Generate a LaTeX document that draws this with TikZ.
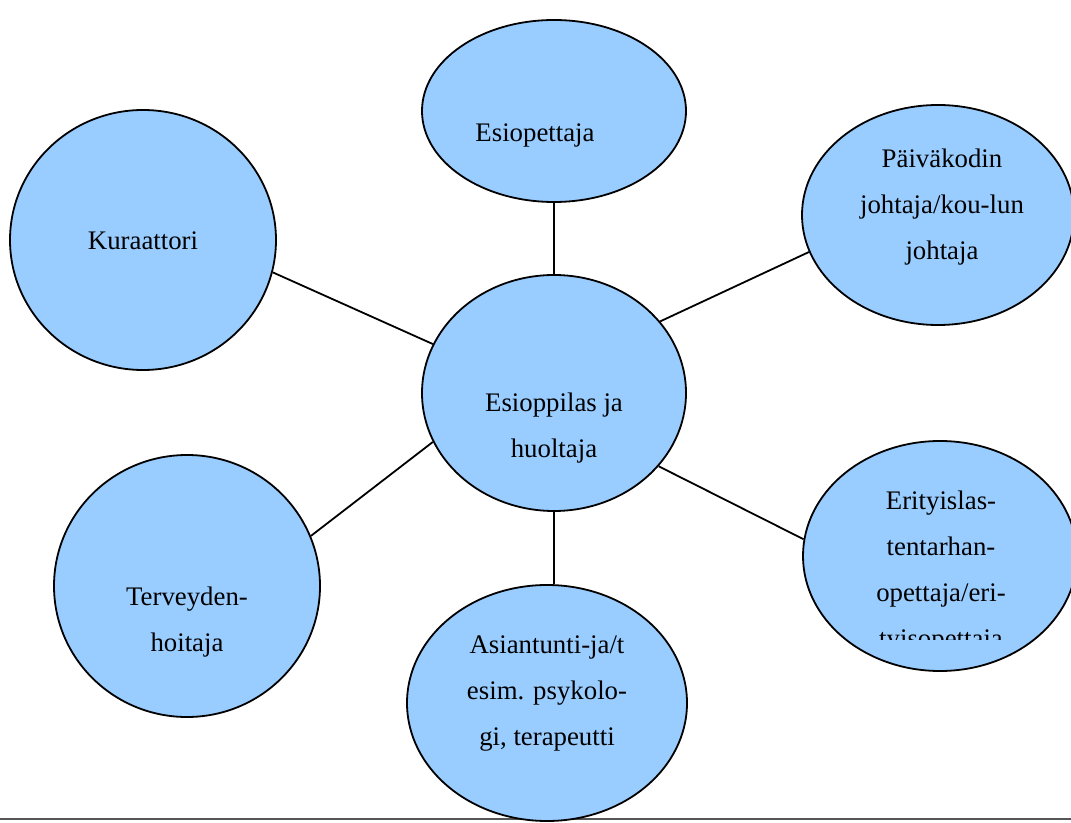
\documentclass[tikz,border=0pt]{standalone}
\usepackage{fontspec}
\setmainfont{Liberation Serif}
\usetikzlibrary{shapes.geometric}
\definecolor{bubble}{HTML}{99CCFF}
\definecolor{rule}{HTML}{555555}
\begin{document}
\begin{tikzpicture}[x=0.5pt,y=-0.5pt,
  bub/.style={ellipse,draw=black,line width=0.9pt,fill=bubble,inner sep=0pt},
  conn/.style={draw=black,line width=0.9pt},
  lbl/.style={font=\fontsize{13.4pt}{23pt}\selectfont,align=center,anchor=base,inner sep=0pt}]
\useasboundingbox (0,0) rectangle (1071,823);
\clip (0,0) rectangle (1071,823);
\draw[rule,line width=0.8pt] (0,819) -- (1071,819);
% ellipses
\node[bub,minimum width=132pt,minimum height=91pt] (esi) at (554,111) {};
\node[bub,minimum width=133pt,minimum height=130pt] (kur) at (143,240) {};
\node[bub,minimum width=136pt,minimum height=110pt] (pai) at (938,215) {};
\node[bub,minimum width=132pt,minimum height=118pt] (cen) at (554,393) {};
\node[bub,minimum width=137pt,minimum height=115pt] (eri) at (940,556) {};
\node[bub,minimum width=133pt,minimum height=131pt] (ter) at (187,586) {};
\node[bub,minimum width=140pt,minimum height=118pt] (asi) at (547,703) {};
% connectors
\draw[conn] (esi.south) -- (cen.north);
\draw[conn] (kur.-14.5) -- (cen.158.4);
\draw[conn] (pai.196) -- (cen.34.6);
\draw[conn] (ter.22.5) -- (cen.202.8);
\draw[conn] (cen.south) -- (cen.south |- asi.north);
\draw[conn] (eri.173.3) -- (cen.-35.7);
% labels (base anchor = baseline of the last line)
\node[lbl] (tesi) at (535,142) {Esiopettaja};
\node[lbl] (tkur) at (143,250) {Kuraattori};
\node[lbl] (tpai) at (942,260) {Päiväkodin\\johtaja/kou-lun\\johtaja};
\node[lbl] (tcen) at (554,458) {Esioppilas ja\\huoltaja};
\node[lbl] (tter) at (187,651) {Terveyden-\\hoitaja};
\node[lbl] (tasi) at (547,745) {Asiantunti-ja/t\\esim. psykolo-\\gi, terapeutti};
\begin{scope}
\clip (800,440) rectangle (1071,639);
\node[lbl] (teri) at (941,647) {Erityislas-\\tentarhan-\\opettaja/eri-\\tyisopettaja};
\end{scope}
\end{tikzpicture}
\end{document}
